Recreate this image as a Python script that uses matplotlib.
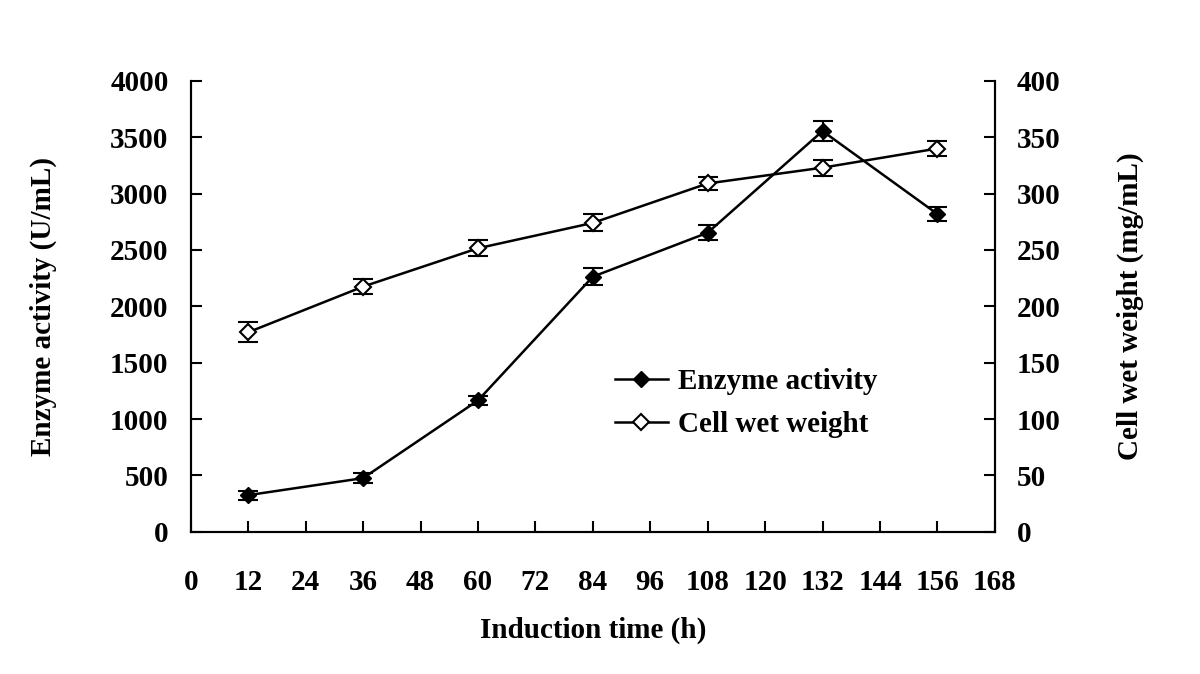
import matplotlib.pyplot as plt
from matplotlib.lines import Line2D

plt.rcParams['font.family'] = ['Liberation Serif', 'DejaVu Serif']
plt.rcParams['font.weight'] = 'bold'

time_h = [12, 36, 60, 84, 108, 132, 156]
enzyme = [325, 476, 1165, 2263, 2653, 3555, 2819]
enzyme_err = [40, 47, 37, 74, 66, 87, 59]
cell_weight = [177, 217.5, 251.5, 274, 309, 323, 340]
cell_err = [9, 6.9, 7, 7.5, 5.5, 7, 7]

fig = plt.figure(figsize=(12, 6.74), dpi=100)
ax = fig.add_axes([0.159, 0.211, 0.67, 0.669])
ax2 = ax.twinx()

ax.errorbar(time_h, enzyme, yerr=enzyme_err, fmt='none', ecolor='black',
            elinewidth=1.5, capsize=7, capthick=1.5, zorder=2)
ax.plot(time_h, enzyme, color='black', lw=1.8, marker='D', ms=8,
        mfc='black', mec='black', zorder=3)

ax2.errorbar(time_h, cell_weight, yerr=cell_err, fmt='none', ecolor='black',
             elinewidth=1.5, capsize=7, capthick=1.5, zorder=2)
ax2.plot(time_h, cell_weight, color='black', lw=1.8, marker='D', ms=8,
         mfc='white', mec='black', mew=1.5, zorder=3)

ax.set_xlim(0, 168)
ax.set_xticks(range(0, 169, 12))
ax.set_ylim(0, 4000)
ax.set_yticks(range(0, 4001, 500))
ax2.set_ylim(0, 400)
ax2.set_yticks(range(0, 401, 50))

for a in (ax, ax2):
    for s in a.spines.values():
        s.set_linewidth(1.5)
    a.spines['top'].set_visible(False)
ax.tick_params(axis='both', direction='in', length=8, width=1.5,
               labelsize=21, pad=16)
ax.tick_params(axis='x', pad=27)
ax2.tick_params(axis='y', direction='in', length=8, width=1.5,
                labelsize=21, pad=16)

ax.set_xlabel('Induction time (h)', fontsize=21, fontweight='bold', labelpad=15)
ax.set_ylabel('Enzyme activity (U/mL)', fontsize=21, fontweight='bold', labelpad=38)
ax2.set_ylabel('Cell wet weight (mg/mL)', fontsize=21, fontweight='bold', labelpad=40)

handles = [
    Line2D([], [], color='black', lw=1.8, marker='D', ms=8, mfc='black', mec='black'),
    Line2D([], [], color='black', lw=1.8, marker='D', ms=8, mfc='white', mec='black', mew=1.5),
]
ax.legend(handles, ['Enzyme activity', 'Cell wet weight'], loc='center left',
          bbox_to_anchor=(0.495, 0.285), frameon=False, fontsize=21,
          handlelength=1.8, handletextpad=0.35, labelspacing=0.55)

fig.savefig('out.png', dpi=100)
